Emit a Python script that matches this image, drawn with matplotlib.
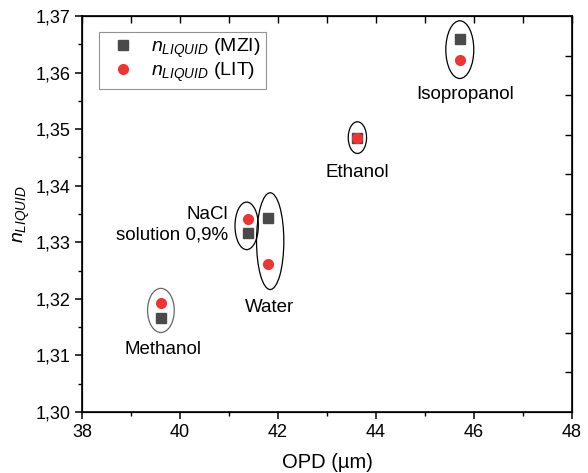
import numpy as np
import matplotlib.pyplot as plt
from matplotlib.patches import Ellipse
from matplotlib.ticker import MultipleLocator, FuncFormatter, FixedLocator, NullFormatter

plt.rcParams['font.family'] = ['Liberation Sans', 'DejaVu Sans']
plt.rcParams['mathtext.fontset'] = 'custom'
plt.rcParams['mathtext.rm'] = 'Liberation Sans'
plt.rcParams['mathtext.it'] = 'Liberation Sans:italic'

# data
liquids = ["Methanol", "NaCl\nsolution 0,9%", "Water", "Ethanol", "Isopropanol"]
opd = [39.61, 41.39, 41.80, 43.61, 45.71]
n_mzi = [1.3167, 1.3317, 1.3343, 1.3485, 1.3659]
n_lit = [1.3192, 1.3341, 1.3261, 1.3485, 1.3622]

# ellipse sizes (x width in um, y height in RI)
ell_w = [0.545, 0.476, 0.557, 0.374, 0.571]
ell_h = [0.0078, 0.0084, 0.0171, 0.0056, 0.0102]
ell_x = [39.61, 41.36, 41.84, 43.62, 45.71]

# label positions
lab_x = [39.66, 40.98, 41.82, 43.61, 45.82]
lab_y = [1.3111, 1.3331, 1.3185, 1.3424, 1.3562]

fig = plt.figure(figsize=(5.88, 4.73), dpi=100)
ax = fig.add_axes([0.1395, 0.129, 0.8333, 0.8372])

ax.plot(opd, n_mzi, ls="none", marker="s", ms=6.5, color="#4a4a4a",
        label=r"$\mathit{n}_{\mathit{LIQUID}}$ (MZI)", zorder=3)
ax.plot(opd, n_lit, ls="none", marker="o", ms=7, color="#ee3535",
        label=r"$\mathit{n}_{\mathit{LIQUID}}$ (LIT)", zorder=4)

for i in range(len(liquids)):
    yc = (n_mzi[i] + n_lit[i]) / 2
    ec = "#666666" if i == 0 else "black"
    ax.add_patch(Ellipse((ell_x[i], yc), ell_w[i], ell_h[i], fill=False,
                         ec=ec, lw=0.9, zorder=2))
    ha = "right" if i == 1 else "center"
    ax.text(lab_x[i], lab_y[i], liquids[i], ha=ha, va="center",
            fontsize=13.5, multialignment="right", linespacing=1.25)

ax.set_xlim(38, 48)
ax.set_ylim(1.30, 1.37)
ax.xaxis.set_major_locator(MultipleLocator(2))
ax.xaxis.set_minor_locator(MultipleLocator(1))
ax.yaxis.set_major_locator(MultipleLocator(0.01))
ax.yaxis.set_minor_locator(MultipleLocator(0.005))
ax.yaxis.set_major_formatter(FuncFormatter(lambda v, p: f"{v:.2f}".replace(".", ",")))
ax.tick_params(which="major", direction="out", length=5, width=1.1, labelsize=13)
ax.tick_params(which="minor", direction="out", length=3, width=1.0)
for s in ax.spines.values():
    s.set_linewidth(1.2)

# mirrored top / right ticks (inward)
top = ax.twiny()
top.set_xlim(38, 48)
top.xaxis.set_major_locator(MultipleLocator(1))
top.xaxis.set_major_formatter(NullFormatter())
top.tick_params(direction="in", length=5, width=1.0)
right = ax.twinx()
right.set_ylim(1.30, 1.37)
right.yaxis.set_major_locator(FixedLocator(np.linspace(1.30, 1.37, 11)[1:-1]))
right.yaxis.set_major_formatter(NullFormatter())
right.tick_params(direction="in", length=5, width=1.0)

ax.set_xlabel("OPD (µm)", fontsize=14.5, labelpad=9)
ax.set_ylabel(r"$\mathit{n}_{\mathit{LIQUID}}$", fontsize=14, labelpad=2)

leg = ax.legend(loc="upper left", bbox_to_anchor=(0.035, 0.960), fontsize=14,
                frameon=True, fancybox=False, edgecolor="#777777",
                handletextpad=0.46, borderpad=0.25, labelspacing=0.05,
                handlelength=1.96, borderaxespad=0)
leg.get_frame().set_linewidth(0.8)

fig.savefig("out.png", dpi=100)
